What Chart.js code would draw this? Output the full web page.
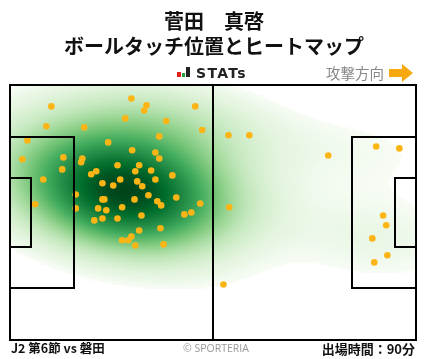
<!DOCTYPE html>
<html>
<head>
<meta charset="utf-8">
<script src="https://cdn.jsdelivr.net/npm/chart.js@4.4.1/dist/chart.umd.min.js"></script>
<style>
  body { margin: 0; background: #fff; font-family: "Noto Sans CJK JP", "Noto Sans", sans-serif; }
  #wrap { position: relative; width: 428px; height: 359px; }
  canvas { position: absolute; left: 0; top: 0; }
  .t { position: absolute; white-space: nowrap; line-height: 1; }
  #title { left: 0; width: 428px; text-align: center; top: 11px; font-size: 20px; font-weight: bold; color: #111; }
  #sub { left: 0; width: 428px; text-align: center; top: 36px; font-size: 20px; font-weight: bold; color: #111; }
  #stats { left: 177px; top: 66px; font-size: 14px; font-weight: bold; color: #222; letter-spacing: 1.3px; font-family: "DejaVu Sans", sans-serif; }
  #stats i { display: inline-block; width: 4px; margin-right: 1px; vertical-align: 1px; }
  #dir { left: 326px; top: 64px; font-size: 14.5px; color: #888; }
  #foot1 { left: 11px; top: 342px; font-size: 12.5px; font-weight: bold; color: #111; }
  #foot2 { left: 183px; top: 343px; font-size: 10.5px; color: #999; font-family: "Open Sans", sans-serif; }
  #foot3 { right: 13px; top: 342px; font-size: 13px; font-weight: bold; color: #111; }
</style>
</head>
<body>
<div id="wrap">
  <canvas id="pitch" width="428" height="359"></canvas>
  <div class="t" id="title">菅田　真啓</div>
  <div class="t" id="sub">ボールタッチ位置とヒートマップ</div>
  <div class="t" id="stats"><i style="height:5px;background:#e02020"></i><i style="height:4px;width:3px;background:#20a040"></i><i style="height:10px;background:#222;margin-right:6px"></i>STATs</div>
  <div class="t" id="dir">攻撃方向 <svg width="24" height="18" viewBox="0 0 24 18" style="vertical-align:-3px;margin-left:2px"><path d="M0 5 H13 V0 L24 9 L13 18 V13 H0 Z" fill="#f5a90f"/></svg></div>
  <div class="t" id="foot1">J2 第6節 vs 磐田</div>
  <div class="t" id="foot2">© SPORTERIA</div>
  <div class="t" id="foot3">出場時間：90分</div>
</div>
<script>
// ball touch positions in metres (x: own goal -> attack, y: from top touchline)
const touchX = [10.7, 31.4, 35.3, 34.7, 29.8, 47.9, 9.4, 19.2, 40.4, 49.7, 38.6, 4.5, 25.4, 31.6, 37.6,
  38.6, 3.2, 13.8, 18.7, 18.4, 13.5, 27.8, 33.4, 32.4, 36.5, 22.3, 21.0, 42.0, 8.6, 28.5, 37.6, 23.9,
  32.9, 26.7, 34.2, 17.0, 35.8, 43.0, 23.9, 24.4, 32.2, 38.1, 39.1, 49.2, 6.5, 17.0, 22.8, 24.9, 29.0,
  34.0, 45.1, 46.9, 21.8, 23.9, 27.8, 33.4, 38.9, 29.0, 30.6, 31.4, 32.4, 39.7, 56.5, 61.9, 82.3,
  94.7, 100.7, 56.7, 96.5, 97.3, 93.7, 97.6, 94.2, 55.2];
const touchY = [5.7, 3.6, 5.4, 6.8, 8.9, 5.7, 11.0, 11.3, 9.6, 12.0, 13.7, 14.8, 15.3, 17.4, 18.0,
  19.6, 19.8, 19.3, 19.6, 20.6, 22.5, 21.4, 21.4, 23.0, 22.8, 23.0, 23.8, 24.1, 25.2, 25.2, 25.2, 26.2,
  25.7, 26.8, 27.0, 29.2, 29.4, 30.0, 30.5, 30.5, 30.5, 31.0, 32.1, 31.6, 31.8, 32.9, 32.9, 33.4, 32.6,
  34.8, 34.5, 34.0, 36.1, 35.6, 35.6, 38.8, 38.2, 41.4, 41.4, 40.4, 42.8, 42.5, 13.4, 13.4, 18.8,
  16.4, 16.9, 32.6, 34.8, 37.4, 40.9, 45.4, 47.3, 53.2];

const pitchLength = 105;
const pitchWidth = 68;

const greens = [[247,252,245],[229,245,224],[199,233,192],[161,217,155],[116,196,118],[65,171,93],[35,139,69],[0,109,44],[0,68,27]];

function greenAt(t) {
  t = Math.max(0, Math.min(1, t)) * (greens.length - 1);
  const i = Math.min(Math.floor(t), greens.length - 2);
  const f = t - i;
  return greens[i].map((c, k) => Math.round(c + (greens[i + 1][k] - c) * f));
}

// gaussian kernel, slightly tilted (correlation rho)
function density(x, y, hx, hy, rho) {
  const k = 1 / (1 - rho * rho);
  let s = 0;
  for (let i = 0; i < touchX.length; i++) {
    const dx = (x - touchX[i]) / hx, dy = (y - touchY[i]) / hy;
    s += Math.exp(-0.5 * k * (dx * dx - 2 * rho * dx * dy + dy * dy));
  }
  return s;
}

const heatmapPlugin = {
  id: 'heatmap',
  beforeDatasetsDraw(chart) {
    const { ctx, chartArea: a, scales: { x, y } } = chart;
    const w = Math.round(a.right - a.left), h = Math.round(a.bottom - a.top);
    const img = ctx.createImageData(w, h);
    const step = 2;
    const cells = [];
    for (let py = 0; py < h; py += step) {
      const vy = y.getValueForPixel(a.top + py + step / 2);
      for (let px = 0; px < w; px += step) {
        cells.push({ px, py, d: density(x.getValueForPixel(a.left + px + step / 2), vy, 17, 8, 0.15) });
      }
    }
    // share of mass lying in lower-density cells (iso-proportion levels)
    const sorted = cells.slice().sort((p, q) => p.d - q.d);
    let tot = 0;
    sorted.forEach(c => { tot += c.d; });
    let run = 0;
    sorted.forEach(c => { c.p = run / tot; run += c.d; });
    const thresh = 0.045;
    cells.forEach(cell => {
      let c = [255, 255, 255];
      if (cell.p >= thresh) c = greenAt((cell.p - thresh) / (1 - thresh));
      for (let yy = cell.py; yy < Math.min(cell.py + step, h); yy++)
        for (let xx = cell.px; xx < Math.min(cell.px + step, w); xx++) {
          const k = (yy * w + xx) * 4;
          img.data[k] = c[0]; img.data[k + 1] = c[1]; img.data[k + 2] = c[2]; img.data[k + 3] = 255;
        }
    });
    ctx.putImageData(img, Math.round(a.left), Math.round(a.top));
  }
};

const pitchPlugin = {
  id: 'pitchLines',
  afterDatasetsDraw(chart) {
    const { ctx, scales: { x, y } } = chart;
    const px = v => Math.round(x.getPixelForValue(v));
    const py = v => Math.round(y.getPixelForValue(v));
    const rect = (x0, y0, x1, y1) => ctx.strokeRect(px(x0), py(y0), px(x1) - px(x0), py(y1) - py(y0));
    ctx.save();
    ctx.strokeStyle = '#000';
    ctx.lineWidth = 2;
    const boxW = 40.32, boxD = 16.5, gaW = 18.32, gaD = 5.5;
    const cy = pitchWidth / 2;
    rect(0, 0, pitchLength, pitchWidth);
    rect(0, cy - boxW / 2, boxD, cy + boxW / 2);
    rect(0, cy - gaW / 2, gaD, cy + gaW / 2);
    rect(pitchLength - boxD, cy - boxW / 2, pitchLength, cy + boxW / 2);
    rect(pitchLength - gaD, cy - gaW / 2, pitchLength, cy + gaW / 2);
    ctx.beginPath();
    ctx.moveTo(px(pitchLength / 2), py(0));
    ctx.lineTo(px(pitchLength / 2), py(pitchWidth));
    ctx.stroke();
    ctx.restore();
  }
};

new Chart(document.getElementById('pitch'), {
  type: 'scatter',
  data: {
    datasets: [{
      data: touchX.map((v, i) => ({ x: v, y: touchY[i] })),
      backgroundColor: '#fdb515',
      borderWidth: 0,
      pointRadius: 3.3,
      clip: false
    }]
  },
  options: {
    responsive: false,
    animation: false,
    layout: { padding: { left: 10, right: 12, top: 85, bottom: 19 } },
    scales: {
      x: { type: 'linear', min: 0, max: pitchLength, display: false },
      y: { type: 'linear', min: 0, max: pitchWidth, reverse: true, display: false }
    },
    plugins: { legend: { display: false }, tooltip: { enabled: false } }
  },
  plugins: [heatmapPlugin, pitchPlugin]
});
</script>
</body>
</html>
